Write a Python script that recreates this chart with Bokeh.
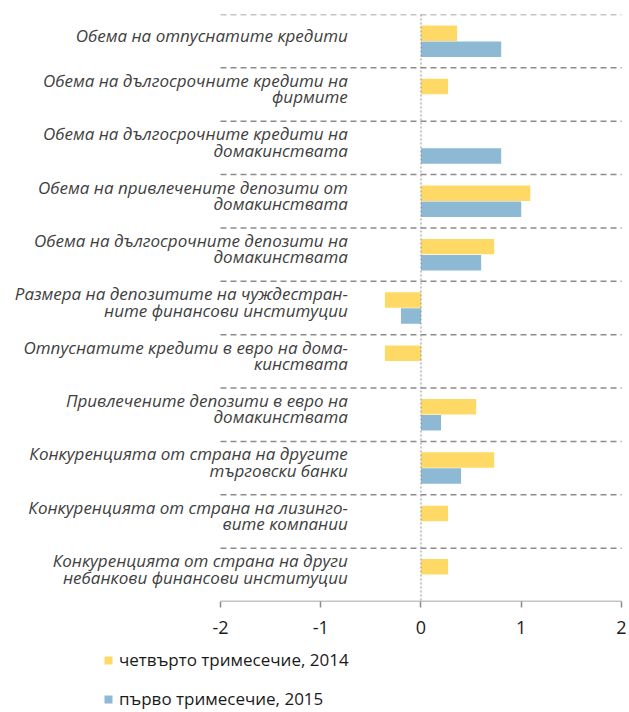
from bokeh.plotting import figure
from bokeh.layouts import column
from bokeh.core.properties import value
from bokeh.models import Range1d, FixedTicker, Span, LabelSet, ColumnDataSource, Legend, LegendItem
from bokeh.embed import file_html
from bokeh.resources import INLINE

categories = [
    ["Обема на отпуснатите кредити"],
    ["Обема на дългосрочните кредити на", "фирмите"],
    ["Обема на дългосрочните кредити на", "домакинствата"],
    ["Обема на привлечените депозити от", "домакинствата"],
    ["Обема на дългосрочните депозити на", "домакинствата"],
    ["Размера на депозитите на чуждестран-", "ните финансови институции"],
    ["Отпуснатите кредити в евро на дома-", "кинствата"],
    ["Привлечените депозити в евро на", "домакинствата"],
    ["Конкуренцията от страна на другите", "търговски банки"],
    ["Конкуренцията от страна на лизинго-", "вите компании"],
    ["Конкуренцията от страна на други", "небанкови финансови институции"],
]
q4_2014 = [0.36, 0.27, 0.0, 1.09, 0.73, -0.36, -0.36, 0.55, 0.73, 0.27, 0.27]
q1_2015 = [0.80, 0.0, 0.80, 1.00, 0.60, -0.20, 0.0, 0.20, 0.40, 0.0, 0.0]
series_names = ["четвърто тримесечие, 2014", "първо тримесечие, 2015"]
x_ticks = [-2, -1, 0, 1, 2]
x_min, x_max = -2, 2

YELLOW = "#FFD966"
BLUE = "#8DB9D4"
GRID = "#8c8c8c"
FONT = "Open Sans"

n = len(categories)
centers = [n - i - 0.5 for i in range(n)]

p = figure(width=629, height=647, output_backend="svg", toolbar_location=None,
           x_range=Range1d(-4.1945, 2.0798), y_range=Range1d(0, n),
           y_axis_location=None,
           min_border_left=0, min_border_right=0, min_border_top=14, min_border_bottom=46)
p.outline_line_color = None
p.background_fill_color = None
p.border_fill_color = "white"
p.xgrid.visible = False
p.ygrid.visible = False

p.xaxis.ticker = FixedTicker(ticks=x_ticks)
p.xaxis.major_label_overrides = {t: str(t) for t in x_ticks}
p.xaxis.axis_line_color = None
p.xaxis.major_tick_line_color = GRID
p.xaxis.major_tick_line_width = 1.5
p.xaxis.major_tick_out = 6
p.xaxis.major_tick_in = 0
p.xaxis.minor_tick_line_color = None
p.xaxis.major_label_text_font = FONT
p.xaxis.major_label_text_font_size = "18px"
p.xaxis.major_label_text_color = "#1a1a1a"
p.xaxis.major_label_standoff = 13

# dashed separators between categories and the axis line
bounds = list(range(1, n + 1))
p.segment(x0=[x_min] * n, x1=[x_max] * n, y0=bounds, y1=bounds,
          line_color=GRID, line_dash="6 4", line_width=1.5)
p.segment(x0=[x_min], x1=[x_max], y0=[0], y1=[0], line_color=GRID, line_width=1.5)

src = ColumnDataSource(dict(
    y1=[c + 0.15 for c in centers], y2=[c - 0.15 for c in centers],
    a=q4_2014, b=q1_2015))
r1 = p.hbar(y="y1", right="a", left=0, height=0.29, source=src,
            fill_color=YELLOW, line_color=None)
r2 = p.hbar(y="y2", right="b", left=0, height=0.29, source=src,
            fill_color=BLUE, line_color=None)

p.add_layout(Span(location=0, dimension="height", line_color=GRID,
                  line_dash="2 2", line_width=1))

# category labels (one entry per text line)
lx, ly, lt, loff = [], [], [], []
pitch = 16.5
for c, lines in zip(centers, categories):
    k = len(lines)
    for j, t in enumerate(lines):
        lx.append(-0.73)
        ly.append(c)
        lt.append(t)
        loff.append(6 + (k - 1) / 2 * pitch - j * pitch)
lsrc = ColumnDataSource(dict(x=lx, y=ly, t=lt, off=loff))
p.add_layout(LabelSet(x="x", y="y", text="t", y_offset="off", source=lsrc,
                      text_align="right", text_baseline="middle",
                      text_font=value(FONT), text_font_style="italic",
                      text_font_size="17px", text_color="#404040"))

# legend strip below the chart
lg = figure(width=629, height=65, output_backend="svg", toolbar_location=None,
            x_range=Range1d(0, 1), y_range=Range1d(0, 1),
            x_axis_location=None, y_axis_location=None,
            min_border_left=0, min_border_right=0, min_border_top=0, min_border_bottom=0)
lg.outline_line_color = None
lg.xgrid.visible = False
lg.ygrid.visible = False
# off-screen proxies so the legend can draw its swatches
k1 = lg.hbar(y=[-10], right=[-10], height=0.5, fill_color=YELLOW, line_color=None)
k2 = lg.hbar(y=[-10], right=[-10], height=0.5, fill_color=BLUE, line_color=None)
legend = Legend(items=[LegendItem(label=series_names[0], renderers=[k1]),
                       LegendItem(label=series_names[1], renderers=[k2])],
                location=(103, 2), orientation="vertical")
legend.padding = 0
legend.margin = 0
legend.border_line_color = None
legend.background_fill_alpha = 0
legend.glyph_width = 10
legend.glyph_height = 10
legend.label_height = 20
legend.spacing = 16
legend.label_standoff = 6
legend.label_text_font = FONT
legend.label_text_font_size = "17px"
legend.label_text_color = "#1a1a1a"
lg.add_layout(legend)

layout = column(p, lg, spacing=0)
open("out.html", "w").write(file_html(layout, INLINE))
